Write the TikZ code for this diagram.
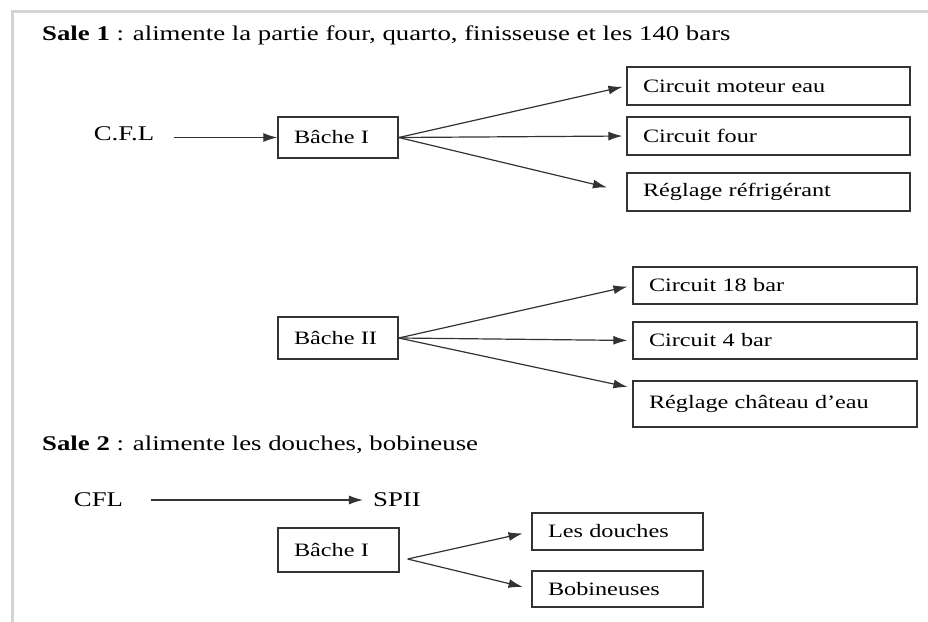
\documentclass[tikz,border=0pt]{standalone}
\usepackage{fontspec}
\setmainfont{Liberation Serif}[FakeStretch=1.28]
\usetikzlibrary{arrows.meta}
\definecolor{ink}{HTML}{333333}
\definecolor{edge}{HTML}{D4D4D4}

\begin{document}
\begin{tikzpicture}[x=1bp,y=-1bp,
  box/.style 2 args={draw=ink, line width=1.3bp, inner xsep=16bp, inner ysep=0pt,
    text width=#1, minimum height=#2, align=left, font=\fontsize{19}{22}\selectfont},
  lbl/.style={inner sep=0pt, font=\fontsize{21}{24}\selectfont},
  flow/.style={draw=ink, line width=1.2bp, -{Latex[length=14bp,width=9bp]}}]
\useasboundingbox (0,0) rectangle (928,622);
% page edge
\draw[edge, line width=3bp] (12,622) -- (12,12) -- (928,12);

% Sale 1
\node[lbl, anchor=west] (sale1) at (42,35) {\textbf{Sale 1} : alimente la partie four, quarto, finisseuse et les 140 bars};
\node[lbl] (cfl1) at (124,134) {C.F.L};
\node[box={88bp}{41bp}] (bache1) at (338,137.5) {Bâche I};
\node[box={251bp}{38bp}] (moteur) at (768.5,86) {Circuit moteur eau};
\node[box={251bp}{38bp}] (four) at (768.5,136) {Circuit four};
\node[box={251bp}{38bp}] (refrig) at (768.5,192) {Réglage réfrigérant};

\draw[flow, shorten <=20bp] (cfl1.east |- bache1.west) -- (bache1.west);
\draw[flow, shorten >=4bp] (bache1.east) -- (moteur.west);
\draw[flow, shorten >=4bp] (bache1.east) -- (four.west);
\draw[flow, shorten >=20bp] (bache1.east) -- (refrig.west);

\node[box={88bp}{42bp}] (bache2) at (338,338) {Bâche II};
\node[box={252bp}{37bp}] (bar18) at (775,285.5) {Circuit 18 bar};
\node[box={252bp}{37bp}] (bar4) at (775,340.5) {Circuit 4 bar};
\node[box={252bp}{46bp}] (chateau) at (775,404) {Réglage château d’eau};

\draw[flow, shorten >=5bp] (bache2.east) -- (bar18.west);
\draw[flow, shorten >=5bp] (bache2.east) -- (bar4.west);
\draw[flow, shorten >=5bp] (bache2.east) -- ([yshift=16bp]chateau.west);

% Sale 2
\node[lbl, anchor=west] (sale2) at (42,445) {\textbf{Sale 2} : alimente les douches, bobineuse};
\node[lbl] (cfl2) at (98.5,500) {CFL};
\node[lbl] (spii) at (397,500) {SPII};
\draw[flow, shorten <=28bp, shorten >=10bp] (cfl2.east) -- (spii.west);

\node[box={89bp}{44bp}] (bache3) at (338.5,550) {Bâche I};
\node[box={139bp}{37bp}] (douches) at (617.5,531.5) {Les douches};
\node[box={139bp}{36bp}] (bobin) at (617.5,589) {Bobineuses};
\coordinate (split) at ([xshift=8bp,yshift=-9bp]bache3.east);
\draw[flow, shorten >=9bp] (split) -- (douches.west);
\draw[flow, shorten >=9bp] (split) -- (bobin.west);
\end{tikzpicture}
\end{document}
